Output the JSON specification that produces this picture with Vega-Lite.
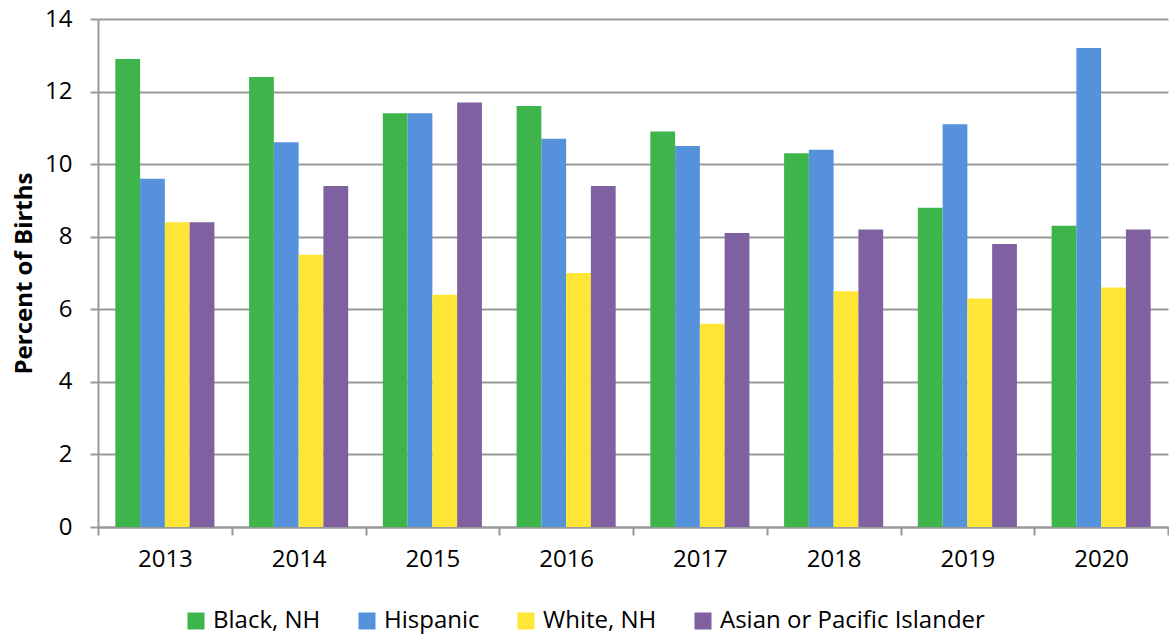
{
  "$schema": "https://vega.github.io/schema/vega-lite/v6.json",
  "width": 1070,
  "height": 508,
  "autosize": {"type": "none"},
  "padding": {"left": 98, "top": 19, "right": 1, "bottom": 108},
  "background": "white",
  "config": {
    "font": "Open Sans",
    "view": {"stroke": null}
  },
  "data": {
    "values": [
      {"year": "2013", "group": "Black, NH", "value": 12.9},
      {"year": "2013", "group": "Hispanic", "value": 9.6},
      {"year": "2013", "group": "White, NH", "value": 8.4},
      {"year": "2013", "group": "Asian or Pacific Islander", "value": 8.4},
      {"year": "2014", "group": "Black, NH", "value": 12.4},
      {"year": "2014", "group": "Hispanic", "value": 10.6},
      {"year": "2014", "group": "White, NH", "value": 7.5},
      {"year": "2014", "group": "Asian or Pacific Islander", "value": 9.4},
      {"year": "2015", "group": "Black, NH", "value": 11.4},
      {"year": "2015", "group": "Hispanic", "value": 11.4},
      {"year": "2015", "group": "White, NH", "value": 6.4},
      {"year": "2015", "group": "Asian or Pacific Islander", "value": 11.7},
      {"year": "2016", "group": "Black, NH", "value": 11.6},
      {"year": "2016", "group": "Hispanic", "value": 10.7},
      {"year": "2016", "group": "White, NH", "value": 7.0},
      {"year": "2016", "group": "Asian or Pacific Islander", "value": 9.4},
      {"year": "2017", "group": "Black, NH", "value": 10.9},
      {"year": "2017", "group": "Hispanic", "value": 10.5},
      {"year": "2017", "group": "White, NH", "value": 5.6},
      {"year": "2017", "group": "Asian or Pacific Islander", "value": 8.1},
      {"year": "2018", "group": "Black, NH", "value": 10.3},
      {"year": "2018", "group": "Hispanic", "value": 10.4},
      {"year": "2018", "group": "White, NH", "value": 6.5},
      {"year": "2018", "group": "Asian or Pacific Islander", "value": 8.2},
      {"year": "2019", "group": "Black, NH", "value": 8.8},
      {"year": "2019", "group": "Hispanic", "value": 11.1},
      {"year": "2019", "group": "White, NH", "value": 6.3},
      {"year": "2019", "group": "Asian or Pacific Islander", "value": 7.8},
      {"year": "2020", "group": "Black, NH", "value": 8.3},
      {"year": "2020", "group": "Hispanic", "value": 13.2},
      {"year": "2020", "group": "White, NH", "value": 6.6},
      {"year": "2020", "group": "Asian or Pacific Islander", "value": 8.2}
    ]
  },
  "mark": {"type": "bar"},
  "encoding": {
    "x": {
      "field": "year",
      "type": "nominal",
      "scale": {"paddingInner": 0, "paddingOuter": 0},
      "axis": {
        "title": null,
        "labelAngle": 0,
        "labelFontSize": 24,
        "labelColor": "black",
        "labelPadding": 12,
        "tickBand": "extent",
        "tickSize": 8,
        "tickColor": "#999999",
        "tickWidth": 2,
        "domainColor": "#999999",
        "domainWidth": 2
      }
    },
    "xOffset": {
      "field": "group",
      "type": "nominal",
      "sort": ["Black, NH", "Hispanic", "White, NH", "Asian or Pacific Islander"],
      "scale": {"paddingInner": 0, "paddingOuter": 0.7}
    },
    "y": {
      "field": "value",
      "type": "quantitative",
      "scale": {"domain": [0, 14], "nice": false},
      "axis": {
        "title": "Percent of Births",
        "titleFontSize": 24,
        "titleFontWeight": "bold",
        "titleColor": "black",
        "titlePadding": 8,
        "values": [0, 2, 4, 6, 8, 10, 12, 14],
        "labelFontSize": 24,
        "labelColor": "black",
        "labelPadding": 18,
        "tickSize": 8,
        "tickColor": "#999999",
        "tickWidth": 2,
        "domainColor": "#999999",
        "domainWidth": 2,
        "grid": true,
        "gridColor": "#999999",
        "gridWidth": 2
      }
    },
    "color": {
      "field": "group",
      "type": "nominal",
      "sort": ["Black, NH", "Hispanic", "White, NH", "Asian or Pacific Islander"],
      "scale": {
        "domain": ["Black, NH", "Hispanic", "White, NH", "Asian or Pacific Islander"],
        "range": ["#3db54a", "#5692dc", "#ffe535", "#7f60a0"]
      },
      "legend": {
        "title": null,
        "orient": "none",
        "legendX": 86,
        "legendY": 590,
        "direction": "horizontal",
        "symbolType": "square",
        "symbolSize": 289,
        "symbolStrokeWidth": 0,
        "labelFontSize": 24,
        "labelLimit": 500,
        "labelColor": "black",
        "labelOffset": 5,
        "columnPadding": 34
      }
    }
  }
}
